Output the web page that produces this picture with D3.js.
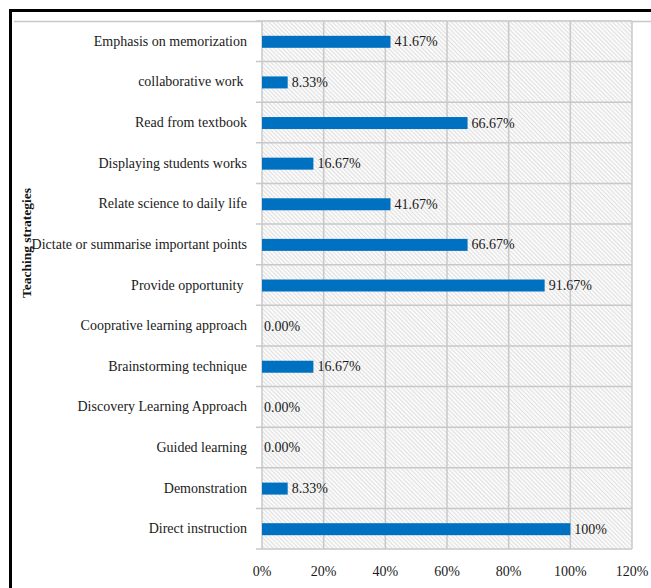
<!DOCTYPE html>
<html><head><meta charset="utf-8">
<script src="https://cdn.jsdelivr.net/npm/d3@7"></script>
<style>body{margin:0;background:#fff;}svg{display:block;}</style>
</head><body>
<svg id="c" width="651" height="588"></svg>
<script>
const categories = ["Emphasis on memorization","collaborative work ","Read from textbook","Displaying students works","Relate science to daily life","Dictate or summarise important points","Provide opportunity ","Cooprative learning approach","Brainstorming technique","Discovery Learning Approach","Guided learning","Demonstration","Direct instruction"];
const values = [41.67, 8.33, 66.67, 16.67, 41.67, 66.67, 91.67, 0, 16.67, 0, 0, 8.33, 100];
const valueLabels = ["41.67%","8.33%","66.67%","16.67%","41.67%","66.67%","91.67%","0.00%","16.67%","0.00%","0.00%","8.33%","100%"];
const xTicks = [0,20,40,60,80,100,120];
const axisTitle = "Teaching strategies";

const svg = d3.select("#c");
const font = "'Liberation Serif','Times New Roman',serif";
const L = 262, R = 632, T = 21, B = 549;

const defs = svg.append("defs");
const pat = defs.append("pattern").attr("id","hatch").attr("patternUnits","userSpaceOnUse")
  .attr("width",3).attr("height",3).attr("patternTransform","rotate(-45)");
pat.append("rect").attr("width",3).attr("height",3).attr("fill","#fafafa");
pat.append("line").attr("x1",0.5).attr("y1",0).attr("x2",0.5).attr("y2",3).attr("stroke","#e0e0e0").attr("stroke-width",1);

const x = d3.scaleLinear().domain([0,120]).range([L,R]);
const y = d3.scaleBand().domain(categories).range([T,B]).paddingInner(0).paddingOuter(0);

// outer frame
svg.append("line").attr("x1",10.5).attr("x2",10.5).attr("y1",9).attr("y2",588).attr("stroke","#000").attr("stroke-width",3);
svg.append("line").attr("x1",9).attr("x2",651).attr("y1",10.5).attr("y2",10.5).attr("stroke","#000").attr("stroke-width",3);
svg.append("line").attr("x1",14).attr("x2",651).attr("y1",21.5).attr("y2",21.5).attr("stroke","#c8c8c8").attr("stroke-width",1.5);

// plot background
svg.append("rect").attr("x",L).attr("y",T).attr("width",R-L).attr("height",B-T).attr("fill","url(#hatch)");

// vertical gridlines
svg.append("g").selectAll("line").data(xTicks).join("line")
  .attr("x1",d=>x(d)).attr("x2",d=>x(d)).attr("y1",T).attr("y2",B)
  .attr("stroke","#c8c8c8").attr("stroke-width",1.5);

// horizontal band separators + ticks
const bounds = categories.map(c=>y(c)).concat([B]);
svg.append("g").selectAll("line").data(bounds).join("line")
  .attr("x1",L-6).attr("x2",R).attr("y1",d=>d).attr("y2",d=>d)
  .attr("stroke","#c8c8c8").attr("stroke-width",1.5);

// bars
const bh = 12;
svg.append("g").selectAll("rect").data(values).join("rect")
  .attr("x",x(0)).attr("y",(d,i)=>y(categories[i])+y.bandwidth()/2-bh/2+0.5)
  .attr("width",d=>x(d)-x(0)).attr("height",bh).attr("fill","#0070C0");

// value labels
svg.append("g").selectAll("text").data(values).join("text")
  .attr("x",d=>x(d)+(d>0?4:2)).attr("y",(d,i)=>y(categories[i])+y.bandwidth()/2+5)
  .attr("font-family",font).attr("font-size",14).attr("fill","#1a1a1a")
  .text((d,i)=>valueLabels[i]);

// category labels
svg.append("g").selectAll("text").data(categories).join("text")
  .attr("x",247).attr("y",d=>y(d)+y.bandwidth()/2+4.5)
  .attr("text-anchor","end").attr("xml:space","preserve")
  .style("white-space","pre")
  .attr("font-family",font).attr("font-size",14).attr("fill","#1a1a1a")
  .text(d=>d);

// x tick labels
svg.append("g").selectAll("text").data(xTicks).join("text")
  .attr("x",d=>x(d)).attr("y",576).attr("text-anchor","middle")
  .attr("font-family",font).attr("font-size",14).attr("fill","#1a1a1a")
  .text(d=>d+"%");

// axis title
svg.append("text").attr("transform","translate(31,243) rotate(-90)")
  .attr("text-anchor","middle").attr("font-family",font).attr("font-size",13.5)
  .attr("font-weight","bold").attr("fill","#111").text(axisTitle);
</script>
</body></html>
